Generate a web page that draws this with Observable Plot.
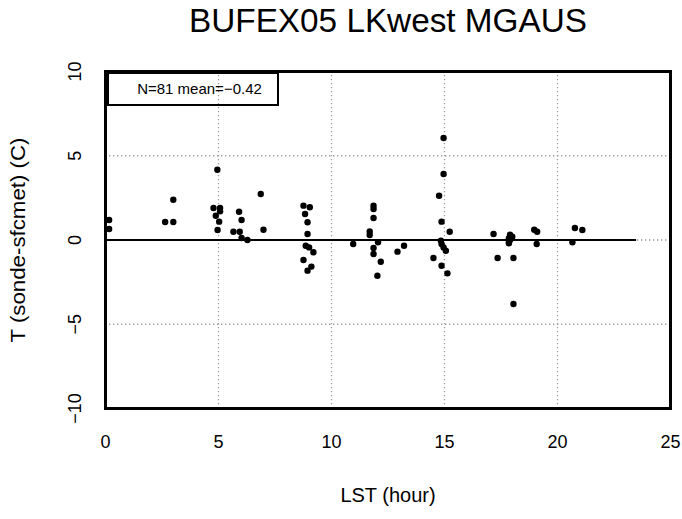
<!DOCTYPE html>
<html>
<head>
<meta charset="utf-8">
<script src="https://cdn.jsdelivr.net/npm/d3@7"></script>
<script src="https://cdn.jsdelivr.net/npm/@observablehq/plot@0.6"></script>
<style>
  html, body { margin: 0; padding: 0; background: white; }
</style>
</head>
<body>
<div id="chart"></div>
<script>
// ---- data ----
const titleText = "BUFEX05 LKwest MGAUS";
const xLabel = "LST (hour)";
const yLabel = "T (sonde-sfcmet) (C)";
const legendText = "N=81 mean=\u22120.42";

const xTicks = [0, 5, 10, 15, 20, 25];
const yTicks = [-10, -5, 0, 5, 10];
const xGrid = [5, 10, 15, 20];
const yGrid = [-5, 0, 5];
const zeroLineEnd = 23.5;

const hours = [
  0.16, 0.16,
  2.64, 3.0, 3.0,
  4.95, 6.87, 4.78, 5.07, 5.07, 4.88, 5.03, 4.96, 5.91, 6.02, 5.66, 5.94, 6.02, 6.28, 6.99,
  8.76, 9.04, 8.83, 8.94, 8.94, 8.86, 9.01, 9.2, 8.76, 8.94, 9.11,
  10.96,
  11.86, 11.86, 11.86, 11.69, 11.69, 12.06, 11.86, 11.86, 12.18, 12.03,
  12.92, 13.21,
  14.96, 14.96, 14.76, 14.87, 15.23, 14.84, 14.87, 14.96, 15.06, 14.51, 14.87, 15.13,
  17.17, 17.35, 18.05, 18.05, 17.9, 18.0, 17.85, 17.9, 17.85, 17.85,
  18.97, 19.1, 19.08,
  20.77, 21.1, 20.66
];
const diffs = [
  1.19, 0.65,
  1.07, 1.07, 2.39,
  4.17, 2.73, 1.90, 1.90, 1.70, 1.44, 1.09, 0.59, 1.68, 1.19, 0.49, 0.49, 0.12, 0.0, 0.61,
  2.04, 1.94, 1.54, 1.05, 0.36, -0.34, -0.44, -0.73, -1.19, -1.82, -1.58,
  -0.24,
  2.04, 1.84, 1.31, 0.51, 0.30, -0.14, -0.47, -0.83, -1.29, -2.12,
  -0.69, -0.34,
  6.05, 3.92, 2.63, 1.09, 0.49, -0.04, -0.24, -0.44, -0.64, -1.07, -1.53, -1.98,
  0.36, -1.07, -1.07, -3.8, 0.32, 0.2, 0.1, 0.0, -0.12, -0.2,
  0.61, 0.49, -0.24,
  0.71, 0.59, -0.14
];

const points = hours.map((h, i) => ({h, d: diffs[i]}));
const fmt = d => d < 0 ? "\u2212" + Math.abs(d) : String(d);
const gridStyle = {stroke: "#9a9a9a", strokeOpacity: 1, strokeWidth: 1.3, strokeDasharray: "1.3,2.7"};

const chart = Plot.plot({
  width: 682,
  height: 519,
  marginLeft: 105,
  marginRight: 12,
  marginTop: 71,
  marginBottom: 111,
  style: {fontFamily: "'Liberation Sans', Arial, Helvetica, sans-serif", background: "white", color: "black"},
  x: {domain: [0, 25], axis: null},
  y: {domain: [-10, 10], axis: null},
  marks: [
    Plot.gridX(xGrid, gridStyle),
    Plot.gridY(yGrid, gridStyle),
    Plot.ruleY([{y: 0, x1: 0, x2: zeroLineEnd}], {y: "y", x1: "x1", x2: "x2", stroke: "black", strokeWidth: 2}),
    Plot.dot(points, {x: "h", y: "d", r: 3.2, fill: "black", stroke: "none"}),
    Plot.frame({stroke: "black", strokeWidth: 3}),
    Plot.text(xTicks, {x: d => d, text: d => fmt(d), frameAnchor: "bottom", dy: 34, fontSize: 18, lineAnchor: "middle"}),
    Plot.text(yTicks, {y: d => d, text: d => fmt(d), frameAnchor: "left", dx: -30, rotate: -90, fontSize: 18, lineAnchor: "middle", textAnchor: "middle"}),
    Plot.text([titleText], {text: d => d, frameAnchor: "top", dy: -50, fontSize: 33, lineAnchor: "middle", className: "ttl"}),
    Plot.text([xLabel], {text: d => d, frameAnchor: "bottom", dy: 87, fontSize: 20, lineAnchor: "middle"}),
    Plot.text([yLabel], {text: d => d, frameAnchor: "left", dx: -87, rotate: -90, fontSize: 20, lineAnchor: "middle", textAnchor: "middle", className: "ylab"}),
    Plot.text([legendText], {text: d => d, frameAnchor: "top-left", dx: 94, dy: 18, fontSize: 15, lineAnchor: "middle", textAnchor: "middle"})
  ]
});

const svg = d3.select(chart);
// condense the title to the reference's width
svg.selectAll(".ttl text").attr("textLength", 398).attr("lengthAdjust", "spacingAndGlyphs");
svg.selectAll(".ylab text").attr("textLength", 205).attr("lengthAdjust", "spacingAndGlyphs");
// legend box around the N/mean annotation
svg.append("rect")
  .attr("x", 108).attr("y", 73).attr("width", 170).attr("height", 32)
  .attr("fill", "none").attr("stroke", "black").attr("stroke-width", 2);

document.getElementById("chart").appendChild(chart);
</script>
</body>
</html>
